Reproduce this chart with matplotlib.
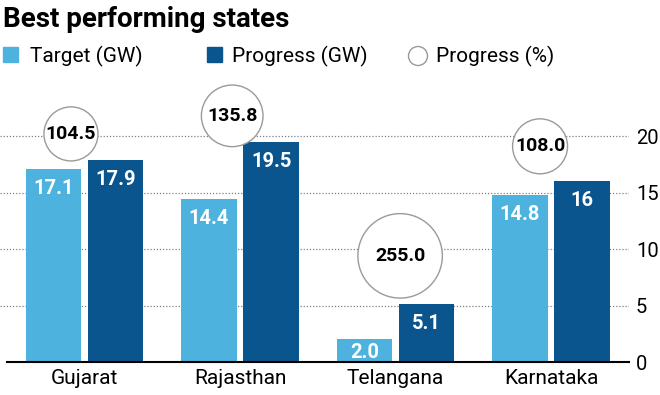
import numpy as np
import matplotlib
matplotlib.use("Agg")
import matplotlib.pyplot as plt
from matplotlib.patches import Rectangle, Ellipse

plt.rcParams["font.family"] = ["Roboto", "DejaVu Sans"]

# ── Data ──────────────────────────────────────────────────────────────────────
states = ["Gujarat", "Rajasthan", "Telangana", "Karnataka"]
target_gw = [17.1, 14.4, 2.0, 14.8]
progress_gw = [17.9, 19.5, 5.1, 16.0]
progress_pct = [104.5, 135.8, 255.0, 108.0]
target_labels = ["17.1", "14.4", "2.0", "14.8"]
progress_labels = ["17.9", "19.5", "5.1", "16"]
pct_labels = ["104.5", "135.8", "255.0", "108.0"]
yticks = [0, 5, 10, 15, 20]

# bubble placement (layout only)
bubble_dx = [-0.087, -0.05, 0.03, -0.07]
bubble_y = [20.2, 21.8, 9.4, 19.1]

C_TARGET = "#4db3de"
C_PROGRESS = "#0b558f"

W, H = 660, 395
fig = plt.figure(figsize=(W / 100, H / 100), dpi=100)
ax = fig.add_axes([0, (H - 362) / H, 629 / W, (362 - 91) / H])

x = np.arange(len(states))
bw = 0.357
off = 0.2
ax.bar(x - off, target_gw, width=bw, color=C_TARGET, zorder=2)
ax.bar(x + off, progress_gw, width=bw, color=C_PROGRESS, zorder=2)

for i in range(len(states)):
    ax.text(x[i] - off, max(target_gw[i] - 1.7, 0.8), target_labels[i], color="white",
            fontsize=14.5, fontweight="bold", ha="center", va="center", zorder=3)
    ax.text(x[i] + off, max(progress_gw[i] - 1.7, 0.8), progress_labels[i], color="white",
            fontsize=14.5, fontweight="bold", ha="center", va="center", zorder=3)

# bubbles: area proportional to progress %
ax.scatter(x + np.array(bubble_dx), bubble_y, s=np.array(progress_pct) * 14.5,
           facecolor="white", edgecolor="#9a9a9a", linewidth=1.0, zorder=4, clip_on=False)
for i in range(len(states)):
    ax.text(x[i] + bubble_dx[i], bubble_y[i], pct_labels[i], fontsize=14,
            fontweight="bold", ha="center", va="center", color="black", zorder=5)

ax.set_xlim(-0.5434, 3.502)
ax.set_ylim(0, 24)
ax.plot([-0.498, 3.502], [0, 0], color="black", lw=1.5, zorder=3, clip_on=False)

for v in yticks[1:]:
    ax.axhline(v, color="#808080", lw=0.9, ls=(0, (1, 1.5)), zorder=1)

ax.yaxis.tick_right()
ax.set_yticks(yticks)
ax.set_yticklabels([str(v) for v in yticks], fontsize=14.5)
ax.tick_params(axis="y", length=0, pad=5)
ax.set_xticks(x)
ax.set_xticklabels(states, fontsize=15)
ax.tick_params(axis="x", length=0, pad=5)
for s in ax.spines.values():
    s.set_visible(False)
ax.patch.set_alpha(0)


# ── Title & legend ────────────────────────────────────────────────────────────
def fx(px):
    return px / W


def fy(py):
    return 1 - py / H


fig.text(fx(3), fy(27), "Best performing states", fontsize=20, fontweight="bold",
         va="baseline", ha="left")

fig.add_artist(Rectangle((fx(3), fy(62)), 15 / W, 15 / H, color=C_TARGET,
                         transform=fig.transFigure))
fig.text(fx(30), fy(56), "Target (GW)", fontsize=15, va="center", ha="left")
fig.add_artist(Rectangle((fx(207), fy(62)), 15 / W, 15 / H, color=C_PROGRESS,
                         transform=fig.transFigure))
fig.text(fx(232), fy(56), "Progress (GW)", fontsize=15, va="center", ha="left")
fig.add_artist(Ellipse((fx(418), fy(56)), 19 / W, 19 / H, facecolor="white",
                       edgecolor="#9a9a9a", lw=1.0, transform=fig.transFigure))
fig.text(fx(436), fy(56), "Progress (%)", fontsize=15, va="center", ha="left")

fig.savefig("out.png", dpi=100)
